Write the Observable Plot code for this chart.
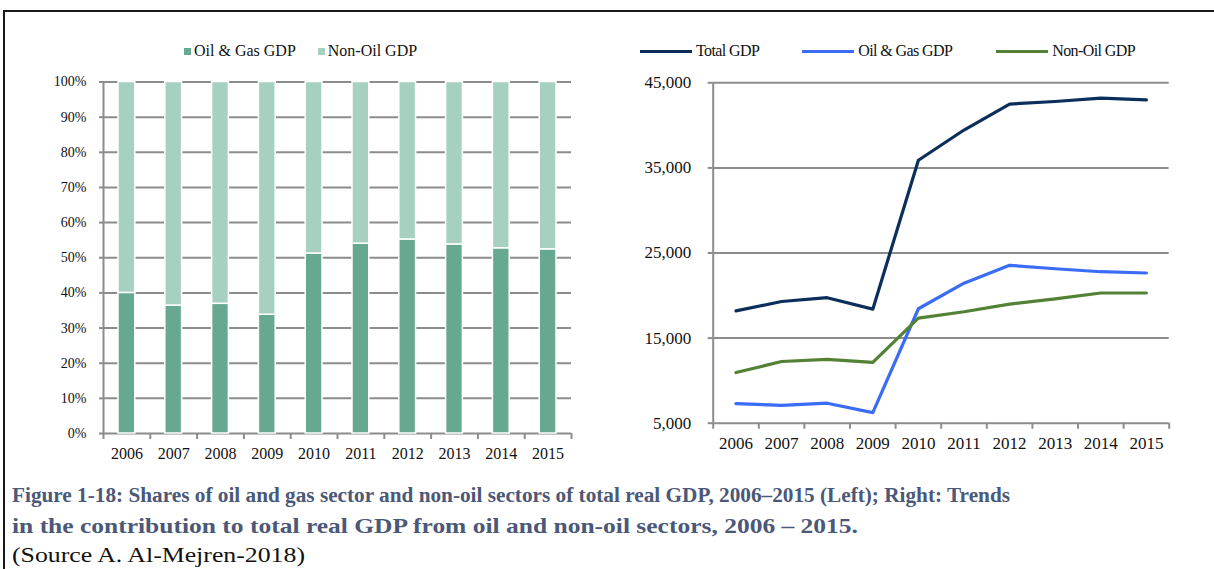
<!DOCTYPE html>
<html>
<head>
<meta charset="utf-8">
<script src="https://cdn.jsdelivr.net/npm/d3@7"></script>
<script src="https://cdn.jsdelivr.net/npm/@observablehq/plot@0.6"></script>
<style>
  html, body { margin: 0; padding: 0; background: #fff; }
  body { font-family: "Liberation Serif", "Times New Roman", serif; }
  #wrap { position: relative; width: 1214px; height: 569px; overflow: hidden; }
  #frame { position: absolute; left: 3px; top: 10px; width: 1211px; height: 560px;
           border-top: 2px solid #1a1a1a; border-left: 2px solid #1a1a1a; box-sizing: border-box; }
  .chart { position: absolute; }
  .legend { position: absolute; font-size: 16px; color: #111; white-space: nowrap; display: flex; align-items: center; }
  .legend .item { display: flex; align-items: center; }
  .sq { display: inline-block; width: 7px; height: 7px; margin-right: 3px; }
  .ln { display: inline-block; width: 52px; height: 3px; margin-right: 4px; }
  #caption { position: absolute; left: 0; top: 475px; }
</style>
</head>
<body>
<div id="wrap">
  <div id="frame"></div>
  <div id="leftLegend" class="legend" style="left:184px; top:42px;"></div>
  <div id="rightLegend" class="legend" style="left:640px; top:42px;"></div>
  <div id="left" class="chart" style="left:40px; top:60px;"></div>
  <div id="right" class="chart" style="left:620px; top:60px;"></div>
  <svg id="caption" width="1214" height="94"></svg>
</div>
<script>
// ---- data ----
const years = [2006, 2007, 2008, 2009, 2010, 2011, 2012, 2013, 2014, 2015];

// Left: shares of total real GDP (%)
const oilShare    = [40.0, 36.4, 36.9, 33.8, 51.2, 54.0, 55.2, 53.8, 52.7, 52.4];
const nonOilShare = [60.0, 63.6, 63.1, 66.2, 48.8, 46.0, 44.8, 46.2, 47.3, 47.6];

// Right: real GDP levels
const totalGDP  = [18200, 19300, 19750, 18400, 35900, 39450, 42500, 42800, 43200, 43000];
const oilGDP    = [7300, 7100, 7350, 6250, 18450, 21450, 23550, 23150, 22800, 22650];
const nonOilGDP = [10950, 12250, 12500, 12150, 17350, 18100, 19000, 19600, 20300, 20300];

const shareSeries = ["Oil & Gas GDP", "Non-Oil GDP"];
const shareColors = ["#67a891", "#a6d0c0"];
const lineSeries  = ["Total GDP", "Oil & Gas GDP", "Non-Oil GDP"];
const lineColors  = ["#0b2f5a", "#3a6cf6", "#538135"];

const leftYTicks  = [0, 10, 20, 30, 40, 50, 60, 70, 80, 90, 100];
const rightYTicks = [5000, 15000, 25000, 35000, 45000];

const captionLines = [
  "Figure 1-18: Shares of oil and gas sector and non-oil sectors of total real GDP, 2006\u20132015 (Left); Right: Trends",
  "in the contribution to total real GDP from oil and non-oil sectors, 2006 \u2013 2015.",
  "(Source A. Al-Mejren-2018)"
];

// ---- derived tables ----
const shareRows = [];
years.forEach((y, i) => {
  shareRows.push({year: y, series: shareSeries[0], value: oilShare[i]});
  shareRows.push({year: y, series: shareSeries[1], value: nonOilShare[i]});
});
const lineRows = [];
[totalGDP, oilGDP, nonOilGDP].forEach((arr, s) =>
  arr.forEach((v, i) => lineRows.push({year: years[i], series: lineSeries[s], value: v})));

const xDomain = [years[0] - 0.5, years[years.length - 1] + 0.5];
const boundaries = years.map(y => y - 0.5).concat([xDomain[1]]);
const gridColor = "#8c8c8c";
const font = "'Liberation Serif', 'Times New Roman', serif";

// ---- left chart ----
const left = Plot.plot({
  width: 560, height: 420,
  marginLeft: 63, marginRight: 29, marginTop: 21.5, marginBottom: 47,
  style: {fontFamily: font, color: "#111", background: "transparent"},
  x: {domain: xDomain, label: null},
  y: {domain: [0, 100], label: null},
  color: {domain: shareSeries, range: shareColors},
  marks: [
    Plot.ruleY(leftYTicks, {stroke: gridColor, strokeWidth: 2}),
    Plot.ruleX([xDomain[0]], {stroke: gridColor, strokeWidth: 2}),
    Plot.rectY(shareRows, Plot.stackY({
      x1: d => d.year - 0.5, x2: d => d.year + 0.5, y: "value", fill: "series",
      insetLeft: 15, insetRight: 15, stroke: "#fff", strokeWidth: 1.5
    })),
    Plot.axisY({ticks: leftYTicks, tickSize: 4, tickPadding: 13, tickFormat: d => d + "%",
                stroke: gridColor, strokeWidth: 2, fontSize: 14, label: null}),
    Plot.axisX({ticks: boundaries, tickSize: 6, tickFormat: () => "", stroke: gridColor, strokeWidth: 2, label: null}),
    Plot.axisX({ticks: years, tickSize: 0, tickPadding: 14, tickFormat: d => String(d), fontSize: 16, label: null})
  ]
});
document.getElementById("left").appendChild(left);

// ---- right chart ----
const right = Plot.plot({
  width: 580, height: 420,
  marginLeft: 92.7, marginRight: 31.3, marginTop: 22.3, marginBottom: 57.3,
  style: {fontFamily: font, color: "#111", background: "transparent"},
  x: {domain: xDomain, label: null},
  y: {domain: [rightYTicks[0], rightYTicks[rightYTicks.length - 1]], label: null},
  color: {domain: lineSeries, range: lineColors},
  marks: [
    Plot.ruleY(rightYTicks, {stroke: gridColor, strokeWidth: 2}),
    Plot.ruleX([xDomain[0]], {stroke: gridColor, strokeWidth: 2}),
    Plot.line(lineRows, {x: "year", y: "value", stroke: "series", z: "series", strokeWidth: 3.2}),
    Plot.axisY({ticks: rightYTicks, tickSize: 5, tickPadding: 17, tickFormat: d3.format(","),
                stroke: gridColor, strokeWidth: 2, fontSize: 17, label: null}),
    Plot.axisX({ticks: boundaries, tickSize: 6, tickFormat: () => "", stroke: gridColor, strokeWidth: 2, label: null}),
    Plot.axisX({ticks: years, tickSize: 0, tickPadding: 14, tickFormat: d => String(d), fontSize: 17, label: null})
  ]
});
document.getElementById("right").appendChild(right);

// ---- legends ----
const ll = document.getElementById("leftLegend");
shareSeries.forEach((s, i) => {
  const it = document.createElement("span");
  it.className = "item";
  it.style.marginRight = "22px";
  it.innerHTML = `<span class="sq" style="background:${shareColors[i]}"></span>${s}`;
  ll.appendChild(it);
});
const rl = document.getElementById("rightLegend");
const gaps = ["43px", "44px", "0px"];
lineSeries.forEach((s, i) => {
  const it = document.createElement("span");
  it.className = "item";
  it.style.marginRight = gaps[i];
  it.innerHTML = `<span class="ln" style="background:${lineColors[i]}"></span><span style="letter-spacing:-0.6px">${s}</span>`;
  rl.appendChild(it);
});

// ---- caption ----
const cap = d3.select("#caption");
const capSpecs = [
  {y: 27, size: 20, weight: "bold", fill: "#4b5877", len: 998},
  {y: 58, size: 21, weight: "bold", fill: "#4b5877", len: 846},
  {y: 87, size: 21, weight: "normal", fill: "#111", len: 293}
];
captionLines.forEach((t, i) => {
  const c = capSpecs[i];
  cap.append("text")
    .attr("x", 12).attr("y", c.y)
    .attr("font-family", font)
    .attr("font-size", c.size)
    .attr("font-weight", c.weight)
    .attr("fill", c.fill)
    .attr("textLength", c.len)
    .attr("lengthAdjust", "spacingAndGlyphs")
    .text(t);
});
</script>
</body>
</html>
